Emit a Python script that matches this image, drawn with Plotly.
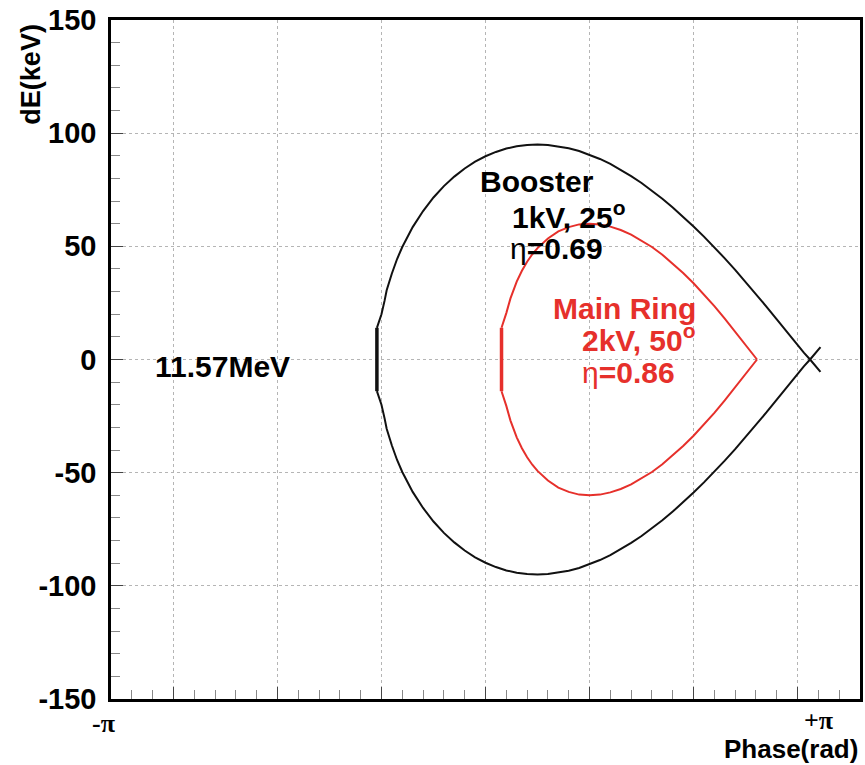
import plotly.graph_objects as go

# ---- data (phase in degrees, dE in keV) ----
booster_phase_upper = [-52.2, -51, -50, -48.5, -47.5, -45, -42.5, -40, -35, -30, -25, -20, -15, -10, -5, 0, 5, 10, 15, 20, 25, 30, 35, 40, 45, 50, 55, 60, 65, 70, 75, 80, 85, 90, 95, 100, 105, 110, 115, 120, 125, 130, 135, 140, 145, 150, 153, 156, 161]
booster_dE_upper = [14, 17, 20, 26, 30.6, 38, 44.4, 49.7, 58.5, 65.6, 71.6, 76.6, 80.8, 84.4, 87.4, 89.8, 91.7, 93.2, 94.2, 94.8, 95.0, 94.8, 94.2, 93.3, 92.1, 90.5, 88.6, 86.4, 83.8, 81.0, 78.0, 74.6, 71.0, 67.2, 63.1, 58.8, 54.3, 49.6, 44.7, 39.6, 34.3, 28.9, 23.4, 17.7, 11.9, 6.1, 3.0, 0, -5.5]
booster_phase_lower = [-52.2, -51, -50, -48.5, -47.5, -45, -42.5, -40, -35, -30, -25, -20, -15, -10, -5, 0, 5, 10, 15, 20, 25, 30, 35, 40, 45, 50, 55, 60, 65, 70, 75, 80, 85, 90, 95, 100, 105, 110, 115, 120, 125, 130, 135, 140, 145, 150, 153, 156, 161]
booster_dE_lower = [-14, -17, -20, -26, -30.6, -38, -44.4, -49.7, -58.5, -65.6, -71.6, -76.6, -80.8, -84.4, -87.4, -89.8, -91.7, -93.2, -94.2, -94.8, -95.0, -94.8, -94.2, -93.3, -92.1, -90.5, -88.6, -86.4, -83.8, -81.0, -78.0, -74.6, -71.0, -67.2, -63.1, -58.8, -54.3, -49.6, -44.7, -39.6, -34.3, -28.9, -23.4, -17.7, -11.9, -6.1, -3.0, 0, 5.5]

main_phase_upper = [7.7, 9, 10, 12, 15, 17.5, 20, 22.5, 25, 30, 35, 40, 45, 50, 55, 60, 65, 70, 75, 80, 85, 90, 95, 100, 105, 110, 115, 120, 125, 130.5]
main_dE_upper = [14, 17.5, 20.5, 27, 34.4, 39.2, 43.2, 46.5, 49.2, 53.5, 56.6, 58.5, 59.7, 60, 59.7, 58.7, 57.2, 55.2, 52.6, 49.7, 46.3, 42.4, 38.2, 33.7, 28.8, 23.6, 18.1, 12.3, 6.3, 0]
main_phase_lower = [7.7, 9, 10, 12, 15, 17.5, 20, 22.5, 25, 30, 35, 40, 45, 50, 55, 60, 65, 70, 75, 80, 85, 90, 95, 100, 105, 110, 115, 120, 125, 130.5]
main_dE_lower = [-14, -17.5, -20.5, -27, -34.4, -39.2, -43.2, -46.5, -49.2, -53.5, -56.6, -58.5, -59.7, -60, -59.7, -58.7, -57.2, -55.2, -52.6, -49.7, -46.3, -42.4, -38.2, -33.7, -28.8, -23.6, -18.1, -12.3, -6.3, 0]

y_ticks = [-150, -100, -50, 0, 50, 100, 150]
y_ticktext = ["-150", "-100", "-50", "0", "50", "100", "150"]
x_grid = [-150, -100, -50, 0, 50, 100, 150]

BLACK = "#111111"
RED = "#e6302b"
FONT = "Liberation Sans, Arial, Helvetica, sans-serif"
SERIF = "Liberation Serif, Times New Roman, serif"

fig = go.Figure()

def add_curve(xu, yu, xl, yl, color):
    fig.add_trace(go.Scatter(x=xu, y=yu, mode="lines", line=dict(color=color, width=2), showlegend=False, hoverinfo="skip"))
    fig.add_trace(go.Scatter(x=xl, y=yl, mode="lines", line=dict(color=color, width=2), showlegend=False, hoverinfo="skip"))
    fig.add_trace(go.Scatter(x=[xu[0], xl[0]], y=[yu[0], yl[0]], mode="lines", line=dict(color=color, width=3.5), showlegend=False, hoverinfo="skip"))

add_curve(booster_phase_upper, booster_dE_upper, booster_phase_lower, booster_dE_lower, BLACK)
add_curve(main_phase_upper, main_dE_upper, main_phase_lower, main_dE_lower, RED)

grid = dict(showgrid=True, gridcolor="#b5b5b5", griddash="dot", gridwidth=1)

fig.update_layout(
    width=865, height=765,
    margin=dict(l=111, r=2, t=20, b=66, pad=0),
    plot_bgcolor="white", paper_bgcolor="white",
    xaxis=dict(range=[-180, 180], tickmode="array", tickvals=x_grid, showticklabels=False,
               ticks="inside", ticklen=12, tickwidth=1, tickcolor="#444",
               zeroline=False, showline=True, linecolor="black", linewidth=2.5, mirror=True,
               minor=dict(dtick=10, tick0=0, ticks="inside", ticklen=9, tickcolor="#888", showgrid=False),
               fixedrange=True, **grid),
    yaxis=dict(range=[-150, 150], tickmode="array", tickvals=y_ticks, ticktext=y_ticktext,
               tickfont=dict(family=FONT, size=29, color="black", weight=700),
               ticks="inside", ticklen=12, tickwidth=1, tickcolor="#444", ticklabelstandoff=6,
               zeroline=False, showline=True, linecolor="black", linewidth=2.5, mirror=True,
               minor=dict(dtick=10, tick0=0, ticks="inside", ticklen=9, tickcolor="#888", showgrid=False),
               fixedrange=True, **grid),
)

def ann(text, x, y, color="black", size=30, xanchor="left", yanchor="middle", xref="x", yref="y", angle=0, family=FONT):
    fig.add_annotation(text=text, x=x, y=y, xref=xref, yref=yref, showarrow=False,
                       xanchor=xanchor, yanchor=yanchor, textangle=angle,
                       font=dict(family=family, size=size, color=color))

ann("<b>11.57MeV</b>", -159.9, -3.1)
ann("<b>Booster</b>", -3.4, 78.8)
ann("<b>1kV, 25<sup>o</sup></b>", 12.0, 63.8)
ann("η<b>=0.69</b>", 11.0, 49.0)
ann("<b>Main Ring</b>", 31.6, 22.5, color=RED)
ann("<b>2kV, 50<sup>o</sup></b>", 45.5, 9.7, color=RED)
ann("η<b>=0.86</b>", 45.5, -5.8, color=RED)

ann("<b>-π</b>", -0.0106, -0.036, size=26, xanchor="center", xref="paper", yref="paper", family=SERIF)
ann("<b>+π</b>", 159.9, -0.032, size=26, xanchor="center", yref="paper", family=SERIF)
ann("<b>Phase(rad)</b>", 1.0, -0.074, size=26, xanchor="right", xref="paper", yref="paper")
ann("<b>dE(keV)</b>", -0.108, 0.997, size=27, xanchor="center", yanchor="top", xref="paper", yref="paper", angle=-90)

fig.write_html("out.html")
